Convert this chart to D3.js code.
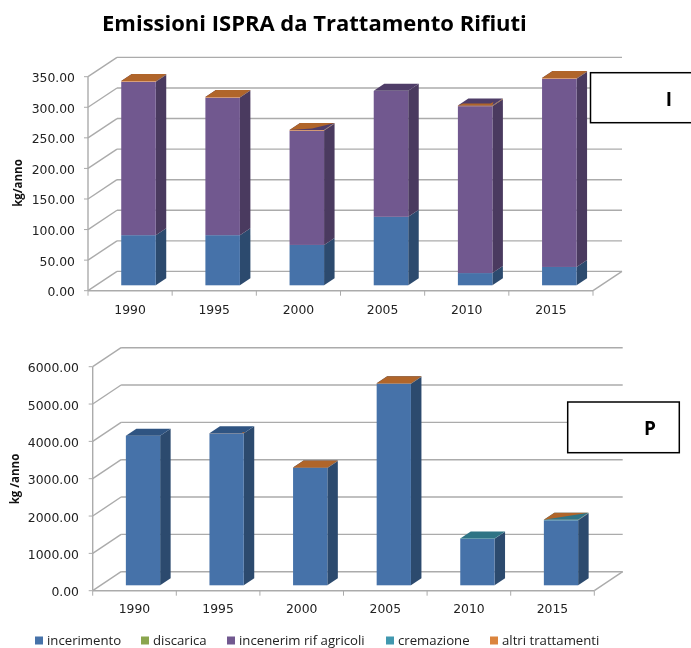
<!DOCTYPE html>
<html><head><meta charset="utf-8">
<script src="https://cdn.jsdelivr.net/npm/d3@7/dist/d3.min.js"></script>
<style>html,body{margin:0;padding:0;background:#fff}svg{display:block;filter:blur(0.4px)}</style>
</head><body><div id="chart"></div>
<script>
const years = ["1990","1995","2000","2005","2010","2015"];
const seriesNames = ["incerimento","discarica","incenerim rif agricoli","cremazione","altri trattamenti"];
const iIncerimento = [82,82,66,112,20,30];
const iDiscarica   = [0,0,0,0,0,0];
const iIncenerim   = [251,225,187,206,273,308];
const iCremazione  = [0,0,0,0,0,0];
const iAltri       = [1,1,1,0,1,1];
const pIncerimento = [4007,4071,3142,5400,1248,1741];
const pDiscarica   = [0,0,0,0,0,0];
const pIncenerim   = [0,0,0,0,0,0];
const pCremazione  = [0,0,0,0,8,8];
const pAltri       = [0,5,15,15,0,10];
const iTicks = [0,50,100,150,200,250,300,350];
const pTicks = [0,1000,2000,3000,4000,5000,6000];
// how the very thin top layer shows on each bar's top face
const iCap = ["full","full","most","none","front","full"];
const pCap = ["none","corner","full","full","none","upper"];

const front = ["#4672a9","#8aa54e","#71588f","#4198af","#db843d"];
const side  = ["#2c4a6e","#5a6d33","#4a3a5f","#2a6475","#8f5626"];
const top_  = ["#2f5482","#64793a","#4f3d68","#2f7485","#b0652a"];

const W=691,H=648;
const svg=d3.select("#chart").append("svg").attr("width",W).attr("height",H);
const grid="#ababab";
const poly=(g,pts,fill)=>g.append("polygon").attr("points",pts.map(p=>p.join(",")).join(" ")).attr("fill",fill);

function chart(o){
  const g=svg.append("g");
  const x=d3.scaleBand().domain(years).range([o.x0,o.x1]);
  const y=d3.scaleLinear().domain(o.domain).range([o.y0,o.y1]);
  const line=(a,b,c,d,w)=>g.append("line").attr("x1",a).attr("y1",b).attr("x2",c).attr("y2",d).attr("stroke",grid).attr("stroke-width",w||1.4);
  o.ticks.forEach(t=>{
    line(o.x0,y(t),o.x0+o.dx,y(t)+o.dy);
    line(o.x0+o.dx,y(t)+o.dy,o.x1+o.dx,y(t)+o.dy);
    line(o.x0-4,y(t),o.x0,y(t),1);
  });
  line(o.x0,o.y0,o.x0,o.y1);
  line(o.x0,o.y0,o.x1,o.y0);
  line(o.x1,o.y0,o.x1+o.dx,o.y0+o.dy);
  years.concat(["end"]).forEach((d,i)=>{const xx=o.x0+i*x.bandwidth();line(xx,o.y0,xx,o.y0+5,1);});

  const rows=years.map((yr,i)=>{const r={year:yr};seriesNames.forEach((s,k)=>r[s]=o.series[k][i]);return r;});
  const stacked=d3.stack().keys(seriesNames)(rows);
  const bw=x.bandwidth()*0.41, ddx=10.5, ddy=-7;
  years.forEach((yr,i)=>{
    const l=x(yr)+x.bandwidth()/2+o.shift-bw/2, r=l+bw;
    let topK=0, prevK=0;
    stacked.forEach((layer,k)=>{
      const a=layer[i][0],b=layer[i][1];
      if(b<=a) return;
      prevK=topK; topK=k;
      const ya=y(a)-o.lift, yb=y(b)-o.lift;
      poly(g,[[r,ya],[r+ddx,ya+ddy],[r+ddx,yb+ddy],[r,yb]],side[k]);
      g.append("rect").attr("x",l).attr("y",yb).attr("width",bw).attr("height",ya-yb).attr("fill",front[k]);
    });
    const yt=y(stacked[stacked.length-1][i][1])-o.lift;
    const FL=[l,yt],FR=[r,yt],BR=[r+ddx,yt+ddy],BL=[l+ddx,yt+ddy];
    const cap=o.cap[i];
    const lastK=topK;
    const baseK=cap==="none"?lastK:prevK;
    poly(g,[FL,FR,BR,BL],top_[cap==="corner"?lastK===4?0:lastK:baseK]);
    if(cap==="full") poly(g,[FL,FR,BR,BL],top_[lastK]);
    if(cap==="upper") poly(g,[FL,BR,BL],top_[lastK]);
    if(cap==="most") poly(g,[FL,[r-12,yt-1.6],BR,BL],top_[lastK]);
    if(cap==="front") poly(g,[FL,FR,[r+1,yt-3.6],[r-2,yt-2],[l+ddx*0.5,yt-2]],top_[lastK]);
    if(cap==="corner") poly(g,[[r-2,yt-1],[r+1.5,yt-1],[r-.5,yt]],top_[lastK]);
  });
  const ty=g.append("g").attr("font-family","'DejaVu Sans'").attr("font-size",o.tickSize).attr("fill","#222");
  o.ticks.forEach(t=>ty.append("text").attr("x",o.labelX).attr("y",y(t)+5.5).attr("text-anchor","end").text(d3.format(".2f")(t)));
  years.forEach(d=>ty.append("text").attr("x",x(d)+x.bandwidth()/2).attr("y",o.y0+o.catDy).attr("text-anchor","middle").text(d));
  g.append("text").attr("transform",`translate(${o.titleX},${o.titleY}) rotate(-90)`).attr("text-anchor","middle")
    .attr("font-family","'Open Sans'").attr("font-weight",700).attr("font-size",11.5).attr("fill","#111").text(o.title);
}

chart({x0:88,x1:593,y0:290.7,y1:76.7,dx:29,dy:-19.3,domain:[0,350],ticks:iTicks,
  series:[iIncerimento,iDiscarica,iIncenerim,iCremazione,iAltri],cap:iCap,shift:8.4,lift:5.4,
  tickSize:12.4,labelX:75,catDy:23.5,title:"kg/anno",titleX:22,titleY:183});
chart({x0:92.7,x1:594.3,y0:590.7,y1:366.7,dx:28.4,dy:-19,domain:[0,6000],ticks:pTicks,
  series:[pIncerimento,pDiscarica,pIncenerim,pCremazione,pAltri],cap:pCap,shift:8.5,lift:5.4,
  tickSize:12.4,labelX:79,catDy:22,title:"kg /anno",titleX:19,titleY:479});

svg.append("text").attr("x",102).attr("y",31).attr("font-family","'Open Sans'").attr("font-weight",700)
  .attr("font-size",22).attr("fill","#000").text("Emissioni ISPRA da Trattamento Rifiuti");

function box(x,y,w,h,label,lx,ly){
  svg.append("rect").attr("x",x).attr("y",y).attr("width",w).attr("height",h).attr("fill","#fff").attr("stroke","#000").attr("stroke-width",1.5);
  svg.append("text").attr("x",lx).attr("y",ly).attr("text-anchor","middle").attr("font-family","'Open Sans'").attr("font-weight",700).attr("font-size",19).attr("fill","#000").text(label);
}
box(590.5,72.7,110,50,"I",669,106);
box(567.7,402,111.6,50.7,"P",650,435);

const legendX=[35,141,227,386,490];
seriesNames.forEach((s,k)=>{
  svg.append("rect").attr("x",legendX[k]).attr("y",636.5).attr("width",8).attr("height",8).attr("fill",front[k]);
  svg.append("text").attr("x",legendX[k]+12).attr("y",645).attr("font-family","'Open Sans'").attr("font-size",13.2).attr("fill","#222").text(s);
});
</script></body></html>
